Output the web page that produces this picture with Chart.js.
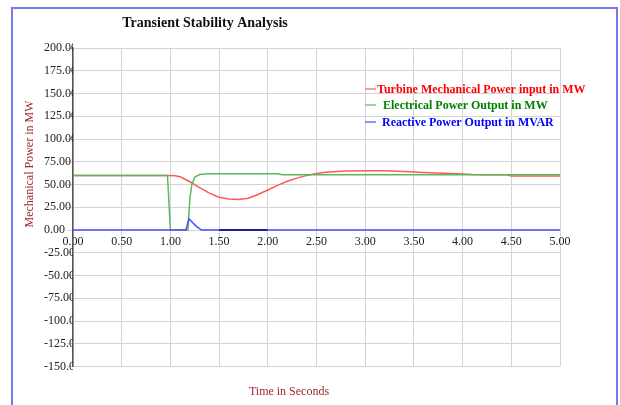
<!DOCTYPE html>
<html>
<head>
<meta charset="utf-8">
<script src="https://cdn.jsdelivr.net/npm/chart.js@4.4.1/dist/chart.umd.min.js"></script>
<style>
  html, body { margin: 0; padding: 0; background: #fff; }
</style>
</head>
<body>
<canvas id="chart" width="620" height="405"></canvas>
<script>
// values
const chartTitle = "Transient Stability Analysis";
const xTitle = "Time in Seconds";
const yTitle = "Mechanical Power in MW";

const seriesLabels = [
  "Turbine Mechanical Power input in MW",
  "Electrical Power Output in MW",
  "Reactive Power Output in MVAR",
];

const mechTime = [0, 0.97, 1.05, 1.1, 1.2, 1.3, 1.4, 1.5, 1.6, 1.7, 1.8, 1.9, 2.0, 2.1, 2.2, 2.3, 2.4, 2.5, 2.6, 2.8, 3.0, 3.2, 3.4, 3.6, 3.8, 4.0, 4.1, 4.2, 4.45, 4.5, 5.0];
const mechPower = [60, 60, 59.5, 58.5, 53, 46.5, 40.5, 36, 34, 33.5, 35, 39, 44, 49, 53.5, 57, 60, 62, 63.5, 64.8, 65.2, 65, 64.3, 63.3, 62.3, 61.5, 61, 60.8, 60.8, 59.4, 59.4];

const elecTime = [0, 0.97, 1.0, 1.18, 1.2, 1.22, 1.25, 1.3, 1.4, 2.1, 2.15, 5.0];
const elecPower = [60, 60, 0, 0, 35, 50, 58, 61, 61.8, 61.8, 60.8, 60.8];

const reacTime = [0, 1.16, 1.19, 1.23, 1.27, 1.32, 1.5, 2.0, 5.0];
const reacPower = [0, 0, 12.5, 8, 3.7, 0, 0, 0, 0];

const xTicks = [0, 0.5, 1, 1.5, 2, 2.5, 3, 3.5, 4, 4.5, 5];
const yMin = -150, yMax = 200, yStep = 25;

const toPoints = (t, v) => t.map((x, i) => ({ x, y: v[i] }));

const lineColors = ["#ff5a5a", "#5cb85c", "#4a4aff"];
const legendColors = ["#ff0000", "#008000", "#0000ff"];

const decorations = {
  id: "decorations",
  afterDraw(chart) {
    const ctx = chart.ctx;
    ctx.save();
    // outer frame
    ctx.strokeStyle = "#7878f0";
    ctx.lineWidth = 2;
    ctx.strokeRect(12, 8, 605, 420);

    ctx.textBaseline = "middle";
    ctx.textAlign = "center";
    ctx.fillStyle = "#111";
    ctx.font = "bold 14px 'Liberation Serif'";
    ctx.fillText(chartTitle, 205, 23);

    ctx.fillStyle = "#a0282d";
    ctx.font = "12px 'Liberation Serif'";
    ctx.fillText(xTitle, 289, 392);
    ctx.save();
    ctx.translate(30, 164);
    ctx.rotate(-Math.PI / 2);
    ctx.fillText(yTitle, 0, 0);
    ctx.restore();

    // legend
    ctx.textAlign = "left";
    ctx.font = "bold 12px 'Liberation Serif'";
    const rows = [[89, 377], [105, 383], [122, 382]];
    chart.data.datasets.forEach((ds, i) => {
      const [y, tx] = rows[i];
      ctx.strokeStyle = ds.borderColor;
      ctx.lineWidth = 1.2;
      ctx.beginPath();
      ctx.moveTo(365, y);
      ctx.lineTo(376, y);
      ctx.stroke();
      ctx.fillStyle = legendColors[i];
      ctx.fillText(ds.label, tx, y + 1);
    });
    ctx.restore();
  },
};

new Chart(document.getElementById("chart"), {
  type: "line",
  data: {
    datasets: [
      { label: seriesLabels[0], data: toPoints(mechTime, mechPower), borderColor: lineColors[0], order: 2 },
      { label: seriesLabels[1], data: toPoints(elecTime, elecPower), borderColor: lineColors[1], order: 1 },
      {
        label: seriesLabels[2], data: toPoints(reacTime, reacPower), borderColor: lineColors[2], order: 0,
        segment: {
          // darker stretch seen on the zero line between 1.5 s and 2.0 s
          borderColor: (c) => (c.p0.parsed.x >= 1.5 && c.p1.parsed.x <= 2.0 ? "#1c1c9c" : undefined),
          borderWidth: (c) => (c.p0.parsed.x >= 1.5 && c.p1.parsed.x <= 2.0 ? 2 : undefined),
        },
      },
    ],
  },
  options: {
    responsive: false,
    animation: false,
    layout: { padding: { left: 44, top: 48, right: 60, bottom: 38.5 } },
    elements: {
      line: { borderWidth: 1.5, tension: 0, fill: false },
      point: { radius: 0 },
    },
    plugins: { legend: { display: false }, tooltip: { enabled: false }, title: { display: false } },
    scales: {
      x: {
        type: "linear",
        position: { y: 0 },
        min: 0,
        max: 5,
        afterBuildTicks: (s) => { s.ticks = xTicks.map((v) => ({ value: v })); },
        afterFit: (s) => { s.height = 0; },
        grid: { color: "#d4d4d4", drawTicks: false },
        border: { display: false },
        ticks: {
          padding: 5,
          color: "#222",
          font: { family: "'Liberation Serif'", size: 12 },
          callback: (v) => v.toFixed(2),
          maxRotation: 0,
        },
      },
      y: {
        type: "linear",
        min: yMin,
        max: yMax,
        afterFit: (s) => { s.width = 29; },
        grid: { color: "#d4d4d4", tickLength: 6 },
        border: { color: "#555", width: 1.5 },
        ticks: {
          stepSize: yStep,
          crossAlign: "far",
          color: "#222",
          font: { family: "'Liberation Serif'", size: 12 },
          callback: (v) => v.toFixed(2),
        },
      },
    },
  },
  plugins: [decorations],
});
</script>
</body>
</html>
